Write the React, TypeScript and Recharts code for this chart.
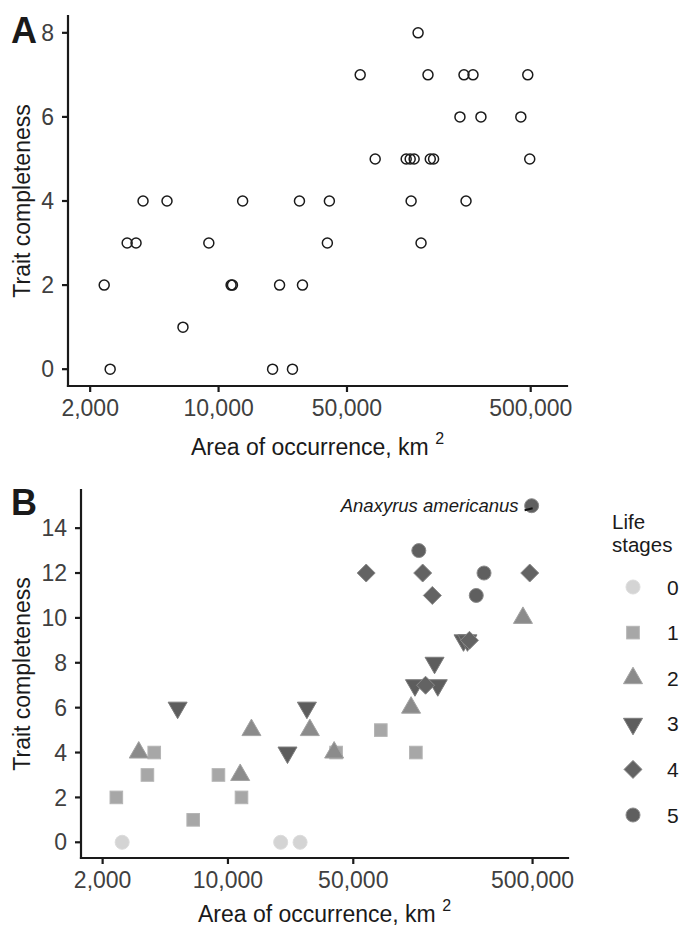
import React from 'react'
import { ScatterChart, Scatter, XAxis, YAxis, Label, Legend } from 'recharts'

// one entry per species, sorted by area of occurrence (km2)
const AREA = [
  2385, 2570, 3180, 3555, 3880, 5240, 6400, 8850, 11700, 11900,
  13520, 19680, 21480, 25250, 27560, 28620, 39100, 40100, 59000, 71200,
  105000, 110400, 111700, 116000, 121900, 126500, 138000, 142000, 148000, 206000,
  216700, 222300, 242600, 268000, 441800, 482000, 494000,
]
// panel A: adult trait completeness
const TRAITS_A = [
  2, 0, 3, 3, 4, 4, 1, 3, 2, 2,
  4, 0, 2, 0, 4, 2, 3, 4, 7, 5,
  5, 5, 4, 5, 8, 3, 7, 5, 5, 6,
  7, 4, 7, 6, 6, 7, 5,
]
// panel B: completeness over all life stages
const TRAITS_B = [
  2, 0, 4, 3, 4, 6, 1, 3, 3, 2,
  5, 0, 4, 0, 6, 5, 4, 4, 12, 5,
  6, 7, 4, 13, 12, 7, 11, 8, 7, 9,
  9, 9, 11, 12, 10, 12, 15,
]
const LIFE_STAGES = [
  1, 0, 2, 1, 1, 3, 1, 1, 2, 1,
  2, 0, 3, 0, 3, 2, 2, 1, 4, 1,
  2, 3, 1, 5, 4, 4, 4, 3, 3, 3,
  3, 4, 5, 5, 2, 4, 5,
]
const STAGE_NAMES = ['0', '1', '2', '3', '4', '5']
const NOTE = { area: 494000, text: 'Anaxyrus americanus' }

const X_TICKS = [2000, 10000, 50000, 500000]
const X_DOMAIN = [1515, 788000]
const Y_TICKS_A = [0, 2, 4, 6, 8]
const Y_TICKS_B = [0, 2, 4, 6, 8, 10, 12, 14]

const FONT = '"Liberation Sans", Arial, Helvetica, sans-serif'
const INK = '#1a1a1a'
const TICK_TEXT = '#404040'

const STAGE_STYLE = [
  { kind: 'circle', fill: '#d4d4d4', stroke: '#dcdcdc' },
  { kind: 'square', fill: '#a7a7a7', stroke: '#b4b4b4' },
  { kind: 'triangle', fill: '#8b8b8b', stroke: '#a3a3a3' },
  { kind: 'triangleDown', fill: '#5d5d5d', stroke: '#7c7c7c' },
  { kind: 'diamond', fill: '#636363', stroke: '#8a8a8a' },
  { kind: 'circle', fill: '#5f5f5f', stroke: '#8a8a8a' },
]

const dataA = AREA.map((area, i) => ({ area, traits: TRAITS_A[i] }))
const dataB = STAGE_NAMES.map((_, s) =>
  AREA.map((area, i) => ({ area, traits: TRAITS_B[i], stage: LIFE_STAGES[i] })).filter(
    (d) => d.stage === s
  )
)

const fmt = (v: number) => v.toLocaleString('en-US')

function Marker({ stage, cx, cy }: { stage: number; cx: number; cy: number }) {
  const st = STAGE_STYLE[stage]
  const common = { fill: st.fill, stroke: st.stroke, strokeWidth: 1 }
  if (st.kind === 'circle') return <circle cx={cx} cy={cy} r={7} {...common} />
  if (st.kind === 'square')
    return <rect x={cx - 6.3} y={cy - 6.3} width={12.6} height={12.6} {...common} />
  if (st.kind === 'diamond')
    return <polygon points={`${cx},${cy - 9} ${cx + 9},${cy} ${cx},${cy + 9} ${cx - 9},${cy}`} {...common} />
  const w = 19
  const h = 16.5
  if (st.kind === 'triangle')
    return (
      <polygon
        points={`${cx},${cy - (2 * h) / 3} ${cx + w / 2},${cy + h / 3} ${cx - w / 2},${cy + h / 3}`}
        {...common}
      />
    )
  return (
    <polygon
      points={`${cx},${cy + (2 * h) / 3} ${cx + w / 2},${cy - h / 3} ${cx - w / 2},${cy - h / 3}`}
      {...common}
    />
  )
}

const stageShape = (stage: number) => (props: any) => {
  const { cx, cy, payload } = props
  if (cx == null || cy == null) return <g />
  if (payload && payload.area === NOTE.area) {
    return (
      <g>
        <Marker stage={stage} cx={cx} cy={cy} />
        <line x1={cx - 7} y1={cy + 4.5} x2={cx + 1} y2={cy + 2.5} stroke="#111" strokeWidth={2} />
        <text
          x={cx - 13}
          y={cy + 6.6}
          textAnchor="end"
          fontSize={18.5}
          fontStyle="italic"
          fill={INK}
          fontFamily={FONT}
        >
          {NOTE.text}
        </text>
      </g>
    )
  }
  return <Marker stage={stage} cx={cx} cy={cy} />
}

const openCircle = (props: any) => {
  const { cx, cy } = props
  if (cx == null || cy == null) return <g />
  return <circle cx={cx} cy={cy} r={5} fill="none" stroke={INK} strokeWidth={1.5} />
}

const yTitle = (letter: string, letterY: number) => (props: any) => {
  const vb = props.viewBox ?? { x: 0, y: 16, width: 68, height: 370 }
  const cy = vb.y + vb.height / 2
  return (
    <g>
      <text
        x={30}
        y={cy}
        transform={`rotate(-90, 30, ${cy})`}
        textAnchor="middle"
        fontSize={23}
        fill={INK}
        fontFamily={FONT}
      >
        Trait completeness
      </text>
      <text x={11} y={letterY} fontSize={36} fontWeight="bold" fill={INK} fontFamily={FONT}>
        {letter}
      </text>
    </g>
  )
}

const xTitle = (dy: number) => (props: any) => {
  const vb = props.viewBox ?? { x: 68, y: 386, width: 499, height: 80 }
  const cx = vb.x + vb.width / 2
  return (
    <text x={cx} y={vb.y + dy} textAnchor="middle" fontSize={23} fill={INK} fontFamily={FONT}>
      <tspan>Area of occurrence, km{'\u00a0'}</tspan>
      <tspan dy={-11} fontSize={16}>
        2
      </tspan>
    </text>
  )
}

const renderLegend = (props: any) => {
  const entries = (props.payload ?? [])
    .map((p: any) => Number(p.value))
    .filter((v: number) => !Number.isNaN(v))
    .sort((a: number, b: number) => a - b)
  return (
    <svg width={84} height={340} style={{ overflow: 'visible', display: 'block' }}>
      <text x={12} y={29} fontSize={20.5} fill={INK} fontFamily={FONT}>
        Life
      </text>
      <text x={12} y={52} fontSize={20.5} fill={INK} fontFamily={FONT}>
        stages
      </text>
      {entries.map((s: number, i: number) => {
        const y = 87 + i * 45.6
        return (
          <g key={s}>
            <Marker stage={s} cx={33} cy={y} />
            <text x={67} y={y + 7.5} fontSize={21} fill={INK} fontFamily={FONT}>
              {STAGE_NAMES[s]}
            </text>
          </g>
        )
      })}
    </svg>
  )
}

const axisLine = { stroke: INK, strokeWidth: 2.2, strokeLinecap: 'square' as const }
const tickLine = { stroke: INK, strokeWidth: 2.2 }
const tickStyle = { fill: TICK_TEXT, fontSize: 23, fontFamily: FONT }

export default function App() {
  return (
    <div style={{ position: 'absolute', left: 0, top: 0, width: 684, height: 926, background: '#fff' }}>
      <div style={{ position: 'absolute', left: 0, top: 0 }}>
        <ScatterChart width={684} height={466} margin={{ top: 16, right: 117, bottom: 0, left: 0 }}>
          <XAxis
            type="number"
            dataKey="area"
            scale="log"
            domain={X_DOMAIN}
            allowDataOverflow
            ticks={X_TICKS}
            interval={0}
            tickFormatter={fmt}
            height={80}
            tickSize={6}
            tickMargin={8}
            axisLine={axisLine}
            tickLine={tickLine}
            tick={tickStyle}
          >
            <Label content={xTitle(69)} />
          </XAxis>
          <YAxis
            type="number"
            dataKey="traits"
            domain={[-0.4, 8.4]}
            allowDataOverflow
            ticks={Y_TICKS_A}
            interval={0}
            width={68}
            tickSize={6}
            tickMargin={8}
            axisLine={axisLine}
            tickLine={tickLine}
            tick={tickStyle}
          >
            <Label content={yTitle('A', 43)} />
          </YAxis>
          <Scatter data={dataA} shape={openCircle} isAnimationActive={false} />
        </ScatterChart>
      </div>
      <div style={{ position: 'absolute', left: 0, top: 470 }}>
        <ScatterChart width={684} height={456} margin={{ top: 20, right: 116, bottom: 0, left: 0 }}>
          <XAxis
            type="number"
            dataKey="area"
            scale="log"
            domain={X_DOMAIN}
            allowDataOverflow
            ticks={X_TICKS}
            interval={0}
            tickFormatter={fmt}
            height={68}
            tickSize={6}
            tickMargin={8}
            axisLine={axisLine}
            tickLine={tickLine}
            tick={tickStyle}
          >
            <Label content={xTitle(64)} />
          </XAxis>
          <YAxis
            type="number"
            dataKey="traits"
            domain={[-0.7, 15.7]}
            allowDataOverflow
            ticks={Y_TICKS_B}
            interval={0}
            width={81}
            tickSize={6}
            tickMargin={8}
            axisLine={axisLine}
            tickLine={tickLine}
            tick={tickStyle}
          >
            <Label content={yTitle('B', 45)} />
          </YAxis>
          <Legend
            layout="vertical"
            align="center"
            verticalAlign="middle"
            wrapperStyle={{ left: 600, top: 30, width: 84, height: 340 }}
            content={renderLegend}
          />
          {STAGE_NAMES.map((name, s) => (
            <Scatter
              key={name}
              name={name}
              data={dataB[s]}
              fill={STAGE_STYLE[s].fill}
              shape={stageShape(s)}
              isAnimationActive={false}
            />
          ))}
        </ScatterChart>
      </div>
    </div>
  )
}
